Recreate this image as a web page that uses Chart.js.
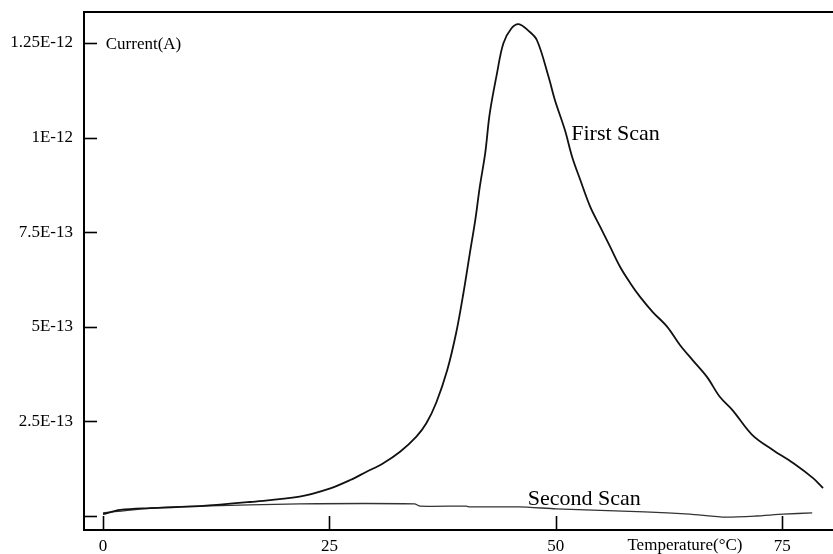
<!DOCTYPE html>
<html>
<head>
<meta charset="utf-8">
<script src="https://cdn.jsdelivr.net/npm/chart.js@4"></script>
<style>
  html, body { margin: 0; padding: 0; background: #fff; }
  #wrap { width: 833px; height: 554px; }
</style>
</head>
<body>
<div id="wrap"><canvas id="chart"></canvas></div>
<script>
// Temperature (°C) and current (A)
const firstScanTemp = [0, 1.9, 5.2, 10.7, 16.2, 21.7, 25.1, 27.3, 29.1, 30.9, 32.8, 34.6, 35.7, 36.8, 38.0, 39.0, 39.8, 40.5, 41.1, 41.6, 42.2, 42.7, 43.5, 44.2, 45.1, 45.9, 46.9, 47.9, 49.2, 49.9, 51.0, 51.8, 52.7, 53.8, 54.9, 56.0, 57.1, 58.2, 59.3, 60.7, 62.3, 63.7, 65.1, 66.7, 68.1, 69.5, 71.7, 74.0, 76.2, 78.4, 79.5];
const firstScanCurrent = [0.05e-13, 0.16e-13, 0.21e-13, 0.26e-13, 0.37e-13, 0.51e-13, 0.73e-13, 0.95e-13, 1.17e-13, 1.39e-13, 1.70e-13, 2.10e-13, 2.45e-13, 3.00e-13, 3.85e-13, 4.85e-13, 5.90e-13, 6.94e-13, 7.82e-13, 8.70e-13, 9.59e-13, 10.64e-13, 11.70e-13, 12.49e-13, 12.89e-13, 13.00e-13, 12.84e-13, 12.58e-13, 11.60e-13, 10.99e-13, 10.20e-13, 9.49e-13, 8.88e-13, 8.17e-13, 7.64e-13, 7.11e-13, 6.58e-13, 6.16e-13, 5.79e-13, 5.39e-13, 5.00e-13, 4.52e-13, 4.12e-13, 3.67e-13, 3.15e-13, 2.80e-13, 2.14e-13, 1.74e-13, 1.40e-13, 1.00e-13, 0.74e-13];

const secondScanTemp = [0, 5.2, 10.7, 21.7, 34.4, 35.0, 40.1, 40.5, 46.0, 50.0, 59.8, 64.8, 68.7, 72.1, 75.1, 78.3];
const secondScanCurrent = [0.08e-13, 0.21e-13, 0.26e-13, 0.32e-13, 0.32e-13, 0.26e-13, 0.26e-13, 0.24e-13, 0.24e-13, 0.19e-13, 0.11e-13, 0.05e-13, -0.03e-13, 0, 0.05e-13, 0.08e-13];

const xTickValues = [0, 25, 50, 75];
const xTickLabels = ['0', '25', '50', '75'];
const yTickValues = [0, 2.5e-13, 5e-13, 7.5e-13, 1e-12, 1.25e-12];
const yTickLabels = ['', '2.5E-13', '5E-13', '7.5E-13', '1E-12', '1.25E-12'];

const FONT = '"Liberation Serif", "Times New Roman", serif';

// text placed in the plot, anchored on data values
const plotTexts = [
  { text: 'Current(A)', x: 0.3, y: 1.25e-12, size: 17, baseline: 'middle' },
  { text: 'First Scan', x: 51.7, y: 9.94e-13, size: 22, baseline: 'alphabetic' },
  { text: 'Second Scan', x: 46.9, y: 0.29e-13, size: 22, baseline: 'alphabetic' }
];

function toPoints(xs, ys) {
  return xs.map((x, i) => ({ x: x, y: ys[i] }));
}

const frameAndTicks = {
  id: 'frameAndTicks',
  afterDraw(chart) {
    const { ctx, chartArea: a, scales: { x, y } } = chart;
    ctx.save();
    ctx.strokeStyle = '#000';
    // top frame line
    ctx.lineWidth = 2;
    ctx.beginPath();
    ctx.moveTo(a.left, a.top);
    ctx.lineTo(chart.width, a.top);
    ctx.stroke();
    // inward tick marks
    ctx.lineWidth = 1.6;
    yTickValues.forEach(v => {
      const py = Math.round(y.getPixelForValue(v)) + 0.5;
      ctx.beginPath();
      ctx.moveTo(a.left, py);
      ctx.lineTo(a.left + 13, py);
      ctx.stroke();
    });
    xTickValues.forEach(v => {
      const px = Math.round(x.getPixelForValue(v)) + 0.5;
      ctx.beginPath();
      ctx.moveTo(px, a.bottom);
      ctx.lineTo(px, a.bottom - 14);
      ctx.stroke();
    });
    // labels
    ctx.fillStyle = '#000';
    ctx.textAlign = 'left';
    plotTexts.forEach(t => {
      ctx.font = t.size + 'px ' + FONT;
      ctx.textBaseline = t.baseline;
      ctx.fillText(t.text, x.getPixelForValue(t.x), y.getPixelForValue(t.y) + (t.baseline === 'middle' ? 2 : 0));
    });
    // axis title sits in the tick label row
    ctx.font = '17px ' + FONT;
    ctx.textBaseline = 'middle';
    ctx.fillText('Temperature(°C)', x.getPixelForValue(57.9), a.bottom + 16);
    ctx.restore();
  }
};

new Chart(document.getElementById('chart'), {
  type: 'line',
  data: {
    datasets: [
      {
        label: 'First Scan',
        data: toPoints(firstScanTemp, firstScanCurrent),
        borderColor: '#111',
        borderWidth: 1.8,
        pointRadius: 0,
        fill: false,
        tension: 0.35
      },
      {
        label: 'Second Scan',
        data: toPoints(secondScanTemp, secondScanCurrent),
        borderColor: '#333',
        borderWidth: 1.3,
        pointRadius: 0,
        fill: false,
        tension: 0.2
      }
    ]
  },
  options: {
    responsive: true,
    maintainAspectRatio: false,
    animation: false,
    layout: { padding: { top: 12, right: 0, bottom: 0, left: 0 } },
    plugins: {
      legend: { display: false },
      tooltip: { enabled: false }
    },
    scales: {
      x: {
        type: 'linear',
        min: -2.1,
        max: 80.6,
        afterBuildTicks: s => { s.ticks = xTickValues.map(v => ({ value: v })); },
        afterFit: s => { s.height = 24; s.paddingLeft = 0; s.paddingRight = 0; },
        grid: { display: false, drawTicks: false },
        border: { display: true, color: '#000', width: 2 },
        ticks: {
          autoSkip: false,
          maxRotation: 0,
          padding: 6,
          color: '#000',
          font: { family: FONT, size: 17 },
          callback: v => xTickLabels[xTickValues.indexOf(v)]
        }
      },
      y: {
        type: 'linear',
        min: -0.37e-13,
        max: 13.32e-13,
        afterBuildTicks: s => { s.ticks = yTickValues.map(v => ({ value: v })); },
        afterFit: s => { s.width = 84; s.paddingTop = 0; s.paddingBottom = 0; },
        grid: { display: false, drawTicks: false },
        border: { display: true, color: '#000', width: 2 },
        ticks: {
          autoSkip: false,
          padding: 11,
          color: '#000',
          font: { family: FONT, size: 17 },
          callback: v => yTickLabels[yTickValues.indexOf(v)]
        }
      }
    }
  },
  plugins: [frameAndTicks]
});
</script>
</body>
</html>
